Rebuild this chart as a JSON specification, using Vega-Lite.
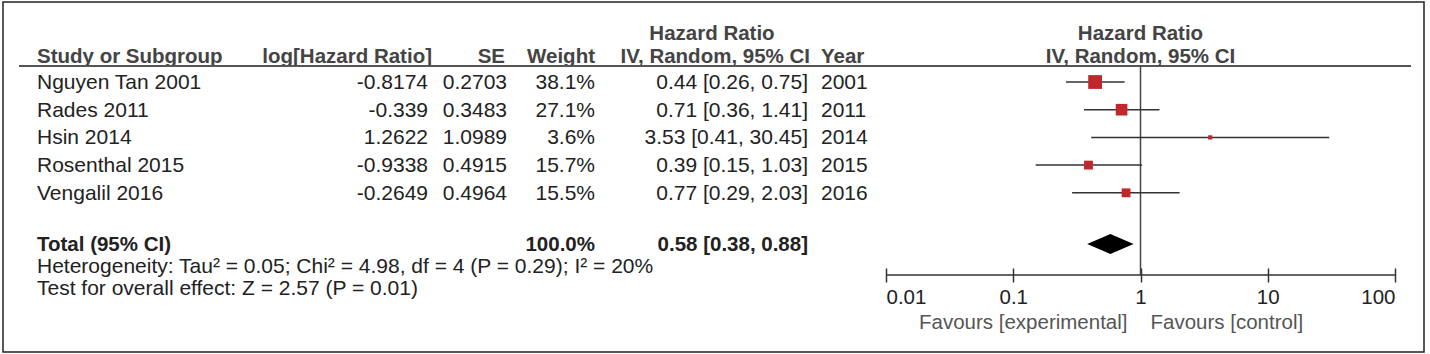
{
  "$schema": "https://vega.github.io/schema/vega-lite/v6.json",
  "width": 1430,
  "height": 354,
  "autosize": {"type": "fit", "contains": "padding"},
  "padding": {"left": 3, "top": 2, "right": 6, "bottom": 2},
  "background": "white",
  "config": {
    "view": {"stroke": "#222", "strokeWidth": 1.5},
    "text": {"font": "Liberation Sans", "fontSize": 21, "color": "#222", "baseline": "middle", "dy": 1}
  },
  "datasets": {
    "studies": [
      {"study": "Nguyen Tan 2001", "loghr": -0.8174, "se": 0.2703, "weight": 0.381, "hr": 0.44, "lo": 0.26, "hi": 0.75, "year": 2001},
      {"study": "Rades 2011", "loghr": -0.339, "se": 0.3483, "weight": 0.271, "hr": 0.71, "lo": 0.36, "hi": 1.41, "year": 2011},
      {"study": "Hsin 2014", "loghr": 1.2622, "se": 1.0989, "weight": 0.036, "hr": 3.53, "lo": 0.41, "hi": 30.45, "year": 2014},
      {"study": "Rosenthal 2015", "loghr": -0.9338, "se": 0.4915, "weight": 0.157, "hr": 0.39, "lo": 0.15, "hi": 1.03, "year": 2015},
      {"study": "Vengalil 2016", "loghr": -0.2649, "se": 0.4964, "weight": 0.155, "hr": 0.77, "lo": 0.29, "hi": 2.03, "year": 2016}
    ],
    "total": [
      {"label": "Total (95% CI)", "weight": 1.0, "hr": 0.58, "lo": 0.38, "hi": 0.88}
    ]
  },
  "resolve": {"scale": {"x": "independent"}, "axis": {"x": "independent"}},
  "layer": [
    {
      "layer": [
        {
          "data": {"values": [{}]},
          "mark": {"type": "text", "text": "Hazard Ratio", "fontWeight": "bold", "fontSize": 20.5, "color": "#444", "align": "center"},
          "encoding": {
            "x": {"datum": 712, "type": "quantitative", "scale": {"domain": [3, 1424], "nice": false, "zero": false}, "axis": null},
            "y": {"datum": -0.769, "type": "quantitative", "scale": {"domain": [-1.888, 10.747], "reverse": true, "nice": false, "zero": false}, "axis": null}
          }
        },
        {
          "data": {"values": [{"h": "Study or Subgroup", "a": "left", "p": 37}, {"h": "log[Hazard Ratio]", "a": "right", "p": 432}, {"h": "SE", "a": "right", "p": 505}, {"h": "Weight", "a": "right", "p": 595}, {"h": "IV, Random, 95% CI", "a": "right", "p": 810}, {"h": "Year", "a": "left", "p": 821}]},
          "mark": {"type": "text", "fontWeight": "bold", "fontSize": 20.5, "color": "#444", "align": {"expr": "datum.a"}},
          "encoding": {
            "x": {"field": "p", "type": "quantitative"},
            "y": {"datum": 0.061, "type": "quantitative"},
            "text": {"field": "h"}
          }
        },
        {
          "data": {"values": [{}]},
          "mark": {"type": "rule", "color": "#555", "strokeWidth": 2},
          "encoding": {
            "x": {"datum": 19, "type": "quantitative"},
            "x2": {"datum": 1411},
            "y": {"datum": 0.422, "type": "quantitative"}
          }
        },
        {
          "data": {"name": "studies"},
          "transform": [{"window": [{"op": "row_number", "as": "idx"}]}],
          "layer": [
            {"mark": {"type": "text", "align": "left"}, "encoding": {"x": {"datum": 37, "type": "quantitative"}, "y": {"field": "idx", "type": "quantitative"}, "text": {"field": "study"}}},
            {"mark": {"type": "text", "align": "right"}, "encoding": {"x": {"datum": 428, "type": "quantitative"}, "y": {"field": "idx", "type": "quantitative"}, "text": {"field": "loghr", "type": "nominal"}}},
            {"mark": {"type": "text", "align": "right"}, "encoding": {"x": {"datum": 507, "type": "quantitative"}, "y": {"field": "idx", "type": "quantitative"}, "text": {"field": "se", "type": "nominal"}}},
            {"mark": {"type": "text", "align": "right"}, "encoding": {"x": {"datum": 595, "type": "quantitative"}, "y": {"field": "idx", "type": "quantitative"}, "text": {"field": "weight", "type": "quantitative", "format": ".1%"}}},
            {"mark": {"type": "text", "align": "right", "text": {"expr": "format(datum.hr, '.2f') + ' [' + format(datum.lo, '.2f') + ', ' + format(datum.hi, '.2f') + ']'"}}, "encoding": {"x": {"datum": 808, "type": "quantitative"}, "y": {"field": "idx", "type": "quantitative"}}},
            {"mark": {"type": "text", "align": "left"}, "encoding": {"x": {"datum": 821, "type": "quantitative"}, "y": {"field": "idx", "type": "quantitative"}, "text": {"field": "year", "type": "nominal"}}}
          ]
        },
        {
          "data": {"name": "total"},
          "layer": [
            {"mark": {"type": "text", "align": "left", "fontWeight": "bold", "fontSize": 20.5}, "encoding": {"x": {"datum": 37, "type": "quantitative"}, "y": {"datum": 6.848, "type": "quantitative"}, "text": {"field": "label"}}},
            {"mark": {"type": "text", "align": "right", "fontWeight": "bold", "fontSize": 20.5}, "encoding": {"x": {"datum": 595, "type": "quantitative"}, "y": {"datum": 6.848, "type": "quantitative"}, "text": {"field": "weight", "type": "quantitative", "format": ".1%"}}},
            {"mark": {"type": "text", "align": "right", "fontWeight": "bold", "fontSize": 20.5, "text": {"expr": "format(datum.hr, '.2f') + ' [' + format(datum.lo, '.2f') + ', ' + format(datum.hi, '.2f') + ']'"}}, "encoding": {"x": {"datum": 808, "type": "quantitative"}, "y": {"datum": 6.848, "type": "quantitative"}}}
          ]
        },
        {
          "data": {"values": [{}]},
          "mark": {"type": "text", "align": "left", "text": "Heterogeneity: Tau² = 0.05; Chi² = 4.98, df = 4 (P = 0.29); I² = 20%"},
          "encoding": {
            "x": {"datum": 37, "type": "quantitative"},
            "y": {"datum": 7.643, "type": "quantitative"}
          }
        },
        {
          "data": {"values": [{}]},
          "mark": {"type": "text", "align": "left", "text": "Test for overall effect: Z = 2.57 (P = 0.01)"},
          "encoding": {
            "x": {"datum": 37, "type": "quantitative"},
            "y": {"datum": 8.437, "type": "quantitative"}
          }
        }
      ]
    },
    {
      "layer": [
        {
          "data": {"values": [{}]},
          "mark": {"type": "text", "text": "Hazard Ratio", "fontWeight": "bold", "fontSize": 20.5, "color": "#444", "align": "center"},
          "encoding": {
            "x": {"datum": 1, "type": "quantitative", "scale": {"type": "log", "domain": [0.01, 100], "range": [883, 1392], "nice": false}, "axis": {"orient": "bottom", "offset": -84, "values": [0.01, 0.1, 1, 10, 100], "format": "~g", "labelFlush": true, "labelFont": "Liberation Sans", "labelFontSize": 20.5, "labelColor": "#222", "labelPadding": 5, "domain": false, "ticks": true, "tickSize": 14, "tickColor": "#333", "tickWidth": 1.5, "grid": false, "title": null}},
            "y": {"datum": -0.769, "type": "quantitative"}
          }
        },
        {
          "data": {"values": [{}]},
          "mark": {"type": "text", "text": "IV, Random, 95% CI", "fontWeight": "bold", "fontSize": 20.5, "color": "#444", "align": "center"},
          "encoding": {
            "x": {"datum": 1, "type": "quantitative"},
            "y": {"datum": 0.061, "type": "quantitative"}
          }
        },
        {
          "data": {"values": [{}]},
          "mark": {"type": "rule", "color": "#444", "strokeWidth": 1.5},
          "encoding": {
            "x": {"datum": 1, "type": "quantitative"},
            "y": {"datum": 0.422, "type": "quantitative"},
            "y2": {"datum": 7.968}
          }
        },
        {
          "data": {"values": [{}]},
          "mark": {"type": "rule", "color": "#333", "strokeWidth": 1.5},
          "encoding": {
            "x": {"datum": 0.01, "type": "quantitative"},
            "x2": {"datum": 100},
            "y": {"datum": 7.968, "type": "quantitative"}
          }
        },
        {
          "data": {"name": "studies"},
          "transform": [{"window": [{"op": "row_number", "as": "idx"}]}],
          "layer": [
            {"mark": {"type": "rule", "color": "#333", "strokeWidth": 1.5}, "encoding": {"x": {"field": "lo", "type": "quantitative"}, "x2": {"field": "hi"}, "y": {"field": "idx", "type": "quantitative"}}},
            {"mark": {"type": "point", "shape": "square", "filled": true, "color": "#c0272d", "opacity": 1}, "encoding": {"x": {"field": "hr", "type": "quantitative"}, "y": {"field": "idx", "type": "quantitative"}, "size": {"field": "weight", "type": "quantitative", "scale": {"type": "linear", "domain": [0, 0.4], "range": [0, 200], "zero": true}, "legend": null}}}
          ]
        },
        {
          "data": {"name": "total"},
          "mark": {"type": "point", "shape": "M-1,0L0,-0.43L1,0L0,0.43Z", "filled": true, "color": "#000", "opacity": 1, "size": 2153},
          "encoding": {
            "x": {"field": "hr", "type": "quantitative"},
            "y": {"datum": 6.848, "type": "quantitative"}
          }
        },
        {
          "data": {"values": [{"f": "Favours [experimental]", "v": 1, "a": "right"}, {"f": "Favours [control]", "v": 1, "a": "left"}]},
          "mark": {"type": "text", "color": "#555", "fontSize": 20.5, "align": {"expr": "datum.a"}, "dx": {"expr": "datum.a == 'right' ? -13 : 10"}},
          "encoding": {
            "x": {"field": "v", "type": "quantitative"},
            "y": {"datum": 9.664, "type": "quantitative"},
            "text": {"field": "f"}
          }
        }
      ]
    }
  ]
}
